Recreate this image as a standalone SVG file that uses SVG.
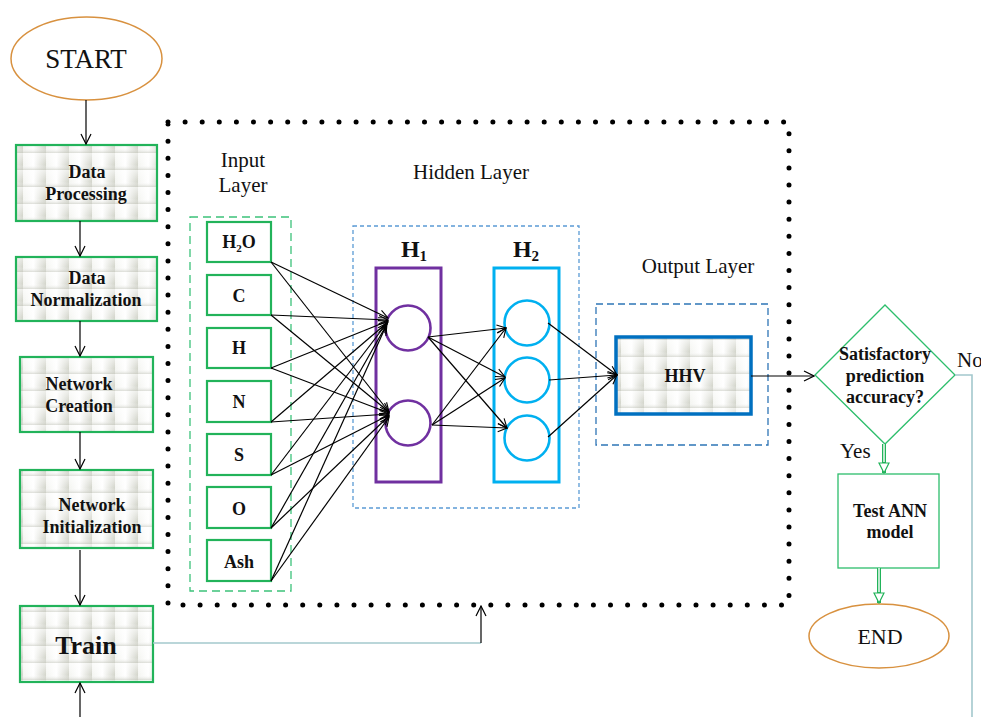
<svg xmlns="http://www.w3.org/2000/svg" width="981" height="717" viewBox="0 0 981 717">
<defs>
<linearGradient id="tg" x1="0" y1="0" x2="1" y2="0">
<stop offset="0" stop-color="#f4f5f1"/><stop offset="0.45" stop-color="#ffffff"/><stop offset="1" stop-color="#d2d4ca"/>
</linearGradient>
<linearGradient id="tgv" x1="0" y1="0" x2="0" y2="1">
<stop offset="0" stop-color="#ffffff" stop-opacity="0.6"/><stop offset="0.7" stop-color="#ffffff" stop-opacity="0"/><stop offset="1" stop-color="#c4c6bc" stop-opacity="0.6"/>
</linearGradient>
<pattern id="tex" width="23" height="17" patternUnits="userSpaceOnUse">
<rect width="23" height="17" fill="url(#tg)"/>
<rect width="23" height="17" fill="url(#tgv)"/>
</pattern>
<marker id="arr" viewBox="0 0 12 12" refX="11" refY="6" markerWidth="12" markerHeight="12" markerUnits="userSpaceOnUse" orient="auto">
<path d="M1,1 L11,6 L1,11" fill="none" stroke="#000" stroke-width="1.2"/>
</marker>
<marker id="arrs" viewBox="0 0 12 12" refX="11" refY="6" markerWidth="11" markerHeight="11" markerUnits="userSpaceOnUse" orient="auto">
<path d="M1,1.5 L11,6 L1,10.5" fill="none" stroke="#000" stroke-width="1.2"/>
</marker>
<marker id="hol" viewBox="0 0 12 12" refX="11" refY="6" markerWidth="12" markerHeight="12" markerUnits="userSpaceOnUse" orient="auto">
<path d="M1,1 L11,6 L1,11 Z" fill="#fff" stroke="#22b35a" stroke-width="1.2"/>
</marker>
</defs>
<style>
.step{fill:url(#tex);stroke:#22b35a;stroke-width:2.2}
.lbl{font-family:"Liberation Serif",serif;font-weight:bold;font-size:18px;fill:#111;text-anchor:middle}
.reg{font-family:"Liberation Serif",serif;font-size:21px;fill:#111;text-anchor:middle}
.ell{fill:#fff;stroke:#d8913f;stroke-width:1.5}
.inp{fill:#fff;stroke:#22b35a;stroke-width:2.2}
.c{fill:none;stroke:#000;stroke-width:1.2}
.nn{fill:none;stroke:#000;stroke-width:1.2;marker-end:url(#arrs)}
.gray{fill:none;stroke:#a3c8cd;stroke-width:1.6}
</style>
<rect width="981" height="717" fill="#fff"/>

<g id="frame">
<path d="M168,122 H789 V605 H168 Z" fill="none" stroke="#000" stroke-width="5" stroke-linecap="round" stroke-dasharray="0 17.1"/>
</g>

<g id="start">
<ellipse class="ell" cx="86.5" cy="58.5" rx="75.5" ry="41.5"/>
<text class="reg" x="86" y="68" style="font-size:27px">START</text>
</g>
<g id="data-processing">
<rect class="step" x="16" y="145" width="141" height="76"/>
<text class="lbl" x="87" y="178">Data</text>
<text class="lbl" x="86" y="200">Processing</text>
</g>
<g id="data-normalization">
<rect class="step" x="16" y="257" width="141" height="64"/>
<text class="lbl" x="87" y="284">Data</text>
<text class="lbl" x="86" y="306">Normalization</text>
</g>
<g id="network-creation">
<rect class="step" x="20" y="357" width="133" height="75"/>
<text class="lbl" x="79" y="390">Network</text>
<text class="lbl" x="79" y="412">Creation</text>
</g>
<g id="network-initialization">
<rect class="step" x="20" y="470" width="133" height="78"/>
<text class="lbl" x="92" y="511">Network</text>
<text class="lbl" x="92" y="533">Initialization</text>
</g>
<g id="train">
<rect class="step" x="20" y="606" width="133" height="76"/>
<text class="lbl" x="86" y="654" style="font-size:26px">Train</text>
</g>

<g id="input-layer">
<text class="reg" x="243" y="167">Input</text>
<text class="reg" x="243" y="192">Layer</text>
<rect x="190" y="217" width="101" height="374" fill="none" stroke="#3cc27a" stroke-width="1.3" stroke-dasharray="8 5"/>
<rect class="inp" x="207" y="222" width="64" height="40"/>
<text class="lbl" x="239" y="248">H<tspan style="font-size:11px" dy="4">2</tspan><tspan dy="-4">O</tspan></text>
<rect class="inp" x="207" y="275" width="64" height="40"/>
<text class="lbl" x="239" y="302">C</text>
<rect class="inp" x="207" y="328" width="64" height="40"/>
<text class="lbl" x="239" y="354">H</text>
<rect class="inp" x="207" y="381" width="64" height="41"/>
<text class="lbl" x="239" y="408">N</text>
<rect class="inp" x="207" y="434" width="64" height="41"/>
<text class="lbl" x="239" y="461">S</text>
<rect class="inp" x="207" y="487" width="64" height="41"/>
<text class="lbl" x="239" y="515">O</text>
<rect class="inp" x="207" y="540" width="64" height="41"/>
<text class="lbl" x="239" y="568">Ash</text>
</g>

<g id="hidden-layer">
<text class="reg" x="471" y="179">Hidden Layer</text>
<rect x="353" y="226" width="226" height="282" fill="none" stroke="#5b9bd5" stroke-width="1.3" stroke-dasharray="4 3"/>
</g>
<g id="h1">
<text class="lbl" x="414" y="257" style="font-size:24px">H<tspan style="font-size:15px" dy="4">1</tspan></text>
<rect x="376" y="268" width="65" height="214" fill="none" stroke="#7030a0" stroke-width="3"/>
<circle cx="408" cy="328" r="22.5" fill="none" stroke="#7030a0" stroke-width="2.6"/>
<circle cx="408" cy="423" r="22.5" fill="none" stroke="#7030a0" stroke-width="2.6"/>
</g>
<g id="h2">
<text class="lbl" x="526" y="257" style="font-size:24px">H<tspan style="font-size:15px" dy="4">2</tspan></text>
<rect x="494" y="268" width="65" height="214" fill="none" stroke="#00b0f0" stroke-width="3"/>
<circle cx="527" cy="323" r="22.5" fill="none" stroke="#00b0f0" stroke-width="2.6"/>
<circle cx="527" cy="380" r="22.5" fill="none" stroke="#00b0f0" stroke-width="2.6"/>
<circle cx="527" cy="438" r="22.5" fill="none" stroke="#00b0f0" stroke-width="2.6"/>
</g>

<g id="output-layer">
<text class="reg" x="698" y="273">Output Layer</text>
<rect x="596" y="304" width="172" height="141" fill="none" stroke="#2e75b6" stroke-width="1.3" stroke-dasharray="7 4"/>
</g>
<g id="hhv">
<rect x="616" y="337" width="135" height="77" fill="url(#tex)" stroke="#0070c0" stroke-width="3.5"/>
<text class="lbl" x="685" y="382">HHV</text>
</g>

<g id="decision">
<polygon points="815,375 885,305 955,375 885,444" fill="#fff" stroke="#2dbe6c" stroke-width="1.3"/>
<text class="lbl" x="885" y="360">Satisfactory</text>
<text class="lbl" x="885" y="382">prediction</text>
<text class="lbl" x="885" y="403">accuracy?</text>
</g>
<g id="test-ann">
<rect x="838" y="474" width="101" height="94" fill="#fff" stroke="#2dbe6c" stroke-width="1.3"/>
<text class="lbl" x="890" y="517">Test ANN</text>
<text class="lbl" x="890" y="538">model</text>
</g>
<g id="end">
<ellipse class="ell" cx="879" cy="636" rx="70" ry="32"/>
<text class="reg" x="880" y="644" style="font-size:22px">END</text>
</g>

<g id="connectors">
<path class="c" d="M86,100 V144" marker-end="url(#arr)"/>
<path class="c" d="M80,221 V256" marker-end="url(#arr)"/>
<path class="c" d="M80,321 V356" marker-end="url(#arr)"/>
<path class="c" d="M80,432 V469" marker-end="url(#arr)"/>
<path class="c" d="M80,550 V605" marker-end="url(#arr)"/>
<path class="c" d="M80,717 V683" marker-end="url(#arr)"/>
<path class="gray" d="M153,643 H481"/>
<path class="c" d="M481,643 V606" stroke-width="1.6" marker-end="url(#arr)"/>

<path class="nn" d="M271,262 L388,318"/><path class="nn" d="M271,262 L389,412"/>
<path class="nn" d="M271,315 L388,320"/><path class="nn" d="M271,315 L389,412"/>
<path class="nn" d="M271,368 L388,321"/><path class="nn" d="M271,368 L389,413"/>
<path class="nn" d="M271,422 L388,322"/><path class="nn" d="M271,422 L389,414"/>
<path class="nn" d="M271,475 L387,323"/><path class="nn" d="M271,475 L389,415"/>
<path class="nn" d="M271,528 L387,324"/><path class="nn" d="M271,528 L389,416"/>
<path class="nn" d="M271,581 L386,326"/><path class="nn" d="M271,581 L389,417"/>

<path class="nn" d="M428,337 L506,328"/><path class="nn" d="M428,337 L505,377"/><path class="nn" d="M428,337 L507,428"/>
<path class="nn" d="M432,425 L506,328"/><path class="nn" d="M432,425 L505,378"/><path class="nn" d="M432,425 L507,428"/>

<path class="nn" d="M548,323 L617,375"/><path class="nn" d="M549,380 L617,375"/><path class="nn" d="M548,437 L617,375"/>

<path class="c" d="M751,376 H814" marker-end="url(#arr)"/>

<path d="M884,444 V473" fill="none" stroke="#22b35a" stroke-width="4" marker-end="url(#hol)"/>
<path d="M884,444 V462" fill="none" stroke="#fff" stroke-width="1.4"/>
<path d="M879,568 V603" fill="none" stroke="#22b35a" stroke-width="4" marker-end="url(#hol)"/>
<path d="M879,568 V592" fill="none" stroke="#fff" stroke-width="1.4"/>

<path class="gray" d="M955,375 H972 V717"/>
<text x="840" y="458" style="font-family:'Liberation Serif',serif;font-size:21px;fill:#111">Yes</text>
<text x="957" y="367" style="font-family:'Liberation Serif',serif;font-size:21px;fill:#111">No</text>
</g>
</svg>
